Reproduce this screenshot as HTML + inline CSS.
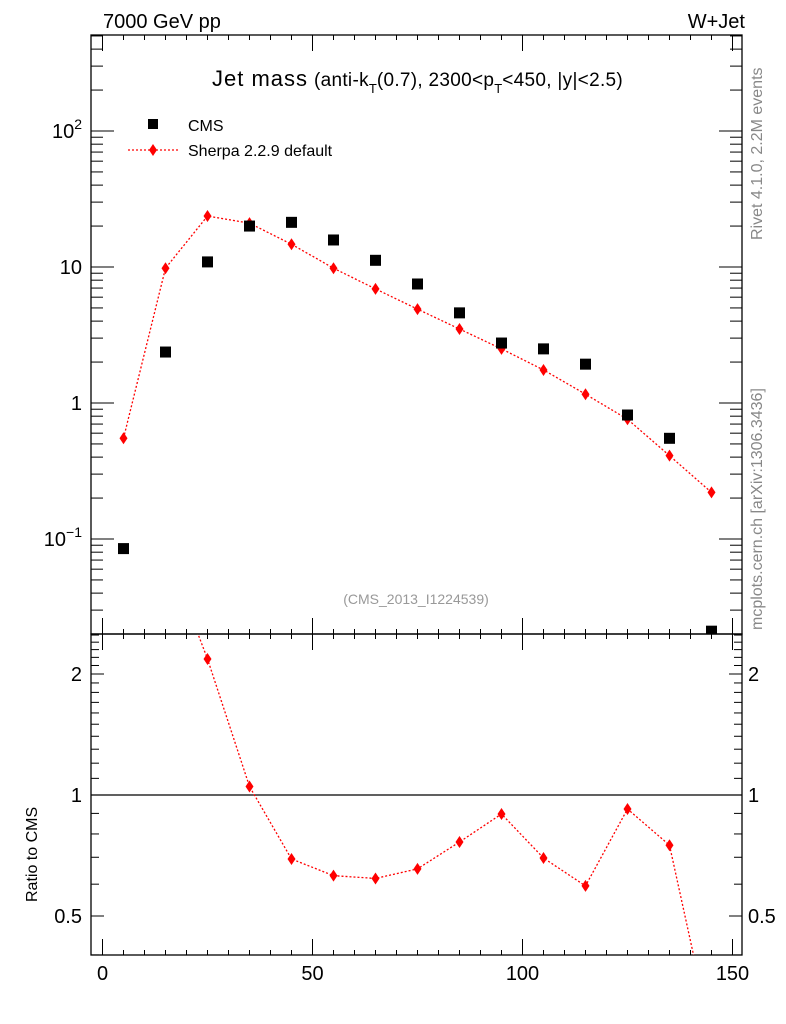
<!DOCTYPE html>
<html><head><meta charset="utf-8"><style>
body{margin:0;background:#fff}
svg{display:block;font-family:"Liberation Sans",Arial,sans-serif}
</style></head><body>
<svg id="c" width="786" height="1024">
<text x="103" y="28" font-size="20">7000 GeV pp</text>
<text x="745" y="28" font-size="20" text-anchor="end">W+Jet</text>
<text x="212" y="86" font-size="22"><tspan textLength="95">Jet mass</tspan><tspan dx="6" font-size="19" letter-spacing="0.3">(anti-k</tspan><tspan font-size="13" dy="7">T</tspan><tspan font-size="19" dy="-7" letter-spacing="0.3">(0.7), 2300&lt;p</tspan><tspan font-size="13" dy="7">T</tspan><tspan font-size="19" dy="-7" letter-spacing="0.3">&lt;450, |y|&lt;2.5)</tspan></text>
<text x="416" y="604" font-size="14" fill="#999" text-anchor="middle">(CMS_2013_I1224539)</text>
<text transform="translate(762,240) rotate(-90)" font-size="16" fill="#888">Rivet 4.1.0,  2.2M events</text>
<text transform="translate(762,630) rotate(-90)" font-size="16" fill="#888">mcplots.cern.ch [arXiv:1306.3436]</text>
<text transform="translate(37,902) rotate(-90)" font-size="16">Ratio to CMS</text>
<g>
<rect x="148" y="119" width="10" height="10" fill="#000"/>
<text x="188" y="131" font-size="16">CMS</text>
<line x1="128" y1="150" x2="180" y2="150" stroke="red" stroke-dasharray="2,2" stroke-width="1.3"/>
<path d="M153,144 L157,150 L153,156 L149,150Z" fill="red"/>
<text x="188" y="156" font-size="16">Sherpa 2.2.9 default</text>
</g>
<g id="g"></g>
</svg>
<script>
const xs=[5,15,25,35,45,55,65,75,85,95,105,115,125,135,145];
const cmsVals=[0.085,2.37,10.9,20,21.3,15.8,11.2,7.5,4.6,2.76,2.5,1.93,0.816,0.55,0.021];
const sherpaVals=[0.55,9.8,23.7,21,14.7,9.8,6.9,4.9,3.5,2.5,1.75,1.16,0.76,0.41,0.22];
const ratioVals=[6.5,4.1,2.18,1.05,0.693,0.63,0.62,0.655,0.764,0.897,0.697,0.594,0.923,0.75,0.25];
const xTicks=[0,50,100,150];
const yTicks=[0.1,1,10,100];
const yTickLabels=["10^-1","1","10","10^2"];
const rTicks=[0.5,1,2];
const rTickLabels=["0.5","1","2"];

const L=91,R=742,T=35,MB=634,RB=955;
const X=v=>102.5+(v)*4.2;
const Y=v=>403-Math.log10(v)*136;
const RY=v=>795-Math.log2(v)*121;
const NS="http://www.w3.org/2000/svg";
const g=document.getElementById('g');
function mk(t,a,p){const e=document.createElementNS(NS,t);for(const k in a)e.setAttribute(k,a[k]);(p||g).appendChild(e);return e;}
const defs=mk('defs',{});
const c1=mk('clipPath',{id:'cm'},defs);mk('rect',{x:L,y:T,width:R-L,height:MB-T},c1);
const c2=mk('clipPath',{id:'cr'},defs);mk('rect',{x:L,y:MB,width:R-L,height:RB-MB},c2);
let f1=mk('rect',{x:L,y:T,width:R-L,height:MB-T,fill:'none',stroke:'#000','stroke-width':1.3});


let f2=mk('rect',{x:L,y:MB,width:R-L,height:RB-MB,fill:'none',stroke:'#000','stroke-width':1.3});


for(let v=0;v<=150;v+=5){const len=(v%50===0)?16:5;
 for(const [y0,d] of [[MB,-1],[T,1],[RB,-1],[MB,1]]){mk('line',{x1:X(v),x2:X(v),y1:y0,y2:y0+d*len,stroke:'#000'});}}
xTicks.forEach(v=>{const t=mk('text',{x:X(v),y:980,'font-size':20,'text-anchor':'middle'});t.textContent=v;
 
 });
for(let d=-2;d<=2;d++)for(let m=1;m<=9;m++){const v=m*Math.pow(10,d);const y=Y(v);if(y<T||y>MB)continue;
 const len=m===1?23:12;mk('line',{x1:L,x2:L+len,y1:y,y2:y,stroke:'#000'});mk('line',{x1:R,x2:R-len,y1:y,y2:y,stroke:'#000'});}
yTicks.forEach((v,i)=>{const s=yTickLabels[i];const t=mk('text',{x:82,y:Y(v)+7,'font-size':20,'text-anchor':'end'});
 if(s.includes('^')){const [b,e]=s.split('^');t.textContent=b;const ts=mk('tspan',{dy:-9,'font-size':14},t);ts.textContent=e.replace('-','\u2212');}
 else t.textContent=s;
 
 });
for(let k=4;k<=25;k++){const v=k/10;const y=RY(v);if(y<MB||y>RB)continue;
 const len=(k===5||k===10||k===20)?13:8;mk('line',{x1:L,x2:L+len,y1:y,y2:y,stroke:'#000'});mk('line',{x1:R,x2:R-len,y1:y,y2:y,stroke:'#000'});}
rTicks.forEach((v,i)=>{for(const [x,a] of [[82,'end'],[748,'start']]){const t=mk('text',{x:x,y:RY(v)+7,'font-size':20,'text-anchor':a});t.textContent=rTickLabels[i];
 
 }});
let ref=mk('line',{x1:L,x2:R,y1:RY(1),y2:RY(1),stroke:'#000','stroke-width':1.3});


const gm=mk('g',{'clip-path':'url(#cm)'});
let pl=mk('polyline',{points:xs.map((x,i)=>X(x)+','+Y(sherpaVals[i])).join(' '),fill:'none',stroke:'red','stroke-width':1.3,'stroke-dasharray':'2,2'},gm);


xs.forEach((x,i)=>{const cx=X(x),cy=Y(sherpaVals[i]);const p=mk('path',{d:`M${cx},${cy-6}L${cx+4},${cy}L${cx},${cy+6}L${cx-4},${cy}Z`,fill:'red'},gm);
 
 });
xs.forEach((x,i)=>{const r=mk('rect',{x:X(x)-5.5,y:Y(cmsVals[i])-5.5,width:11,height:11,fill:'#000'},gm);
 
 });
const gr=mk('g',{'clip-path':'url(#cr)'});
let rl=mk('polyline',{points:xs.map((x,i)=>X(x)+','+RY(ratioVals[i])).join(' '),fill:'none',stroke:'red','stroke-width':1.3,'stroke-dasharray':'2,2'},gr);


xs.forEach((x,i)=>{const cx=X(x),cy=RY(ratioVals[i]);const p=mk('path',{d:`M${cx},${cy-6}L${cx+4},${cy}L${cx},${cy+6}L${cx-4},${cy}Z`,fill:'red'},gr);
 
 });
</script>
</body></html>
